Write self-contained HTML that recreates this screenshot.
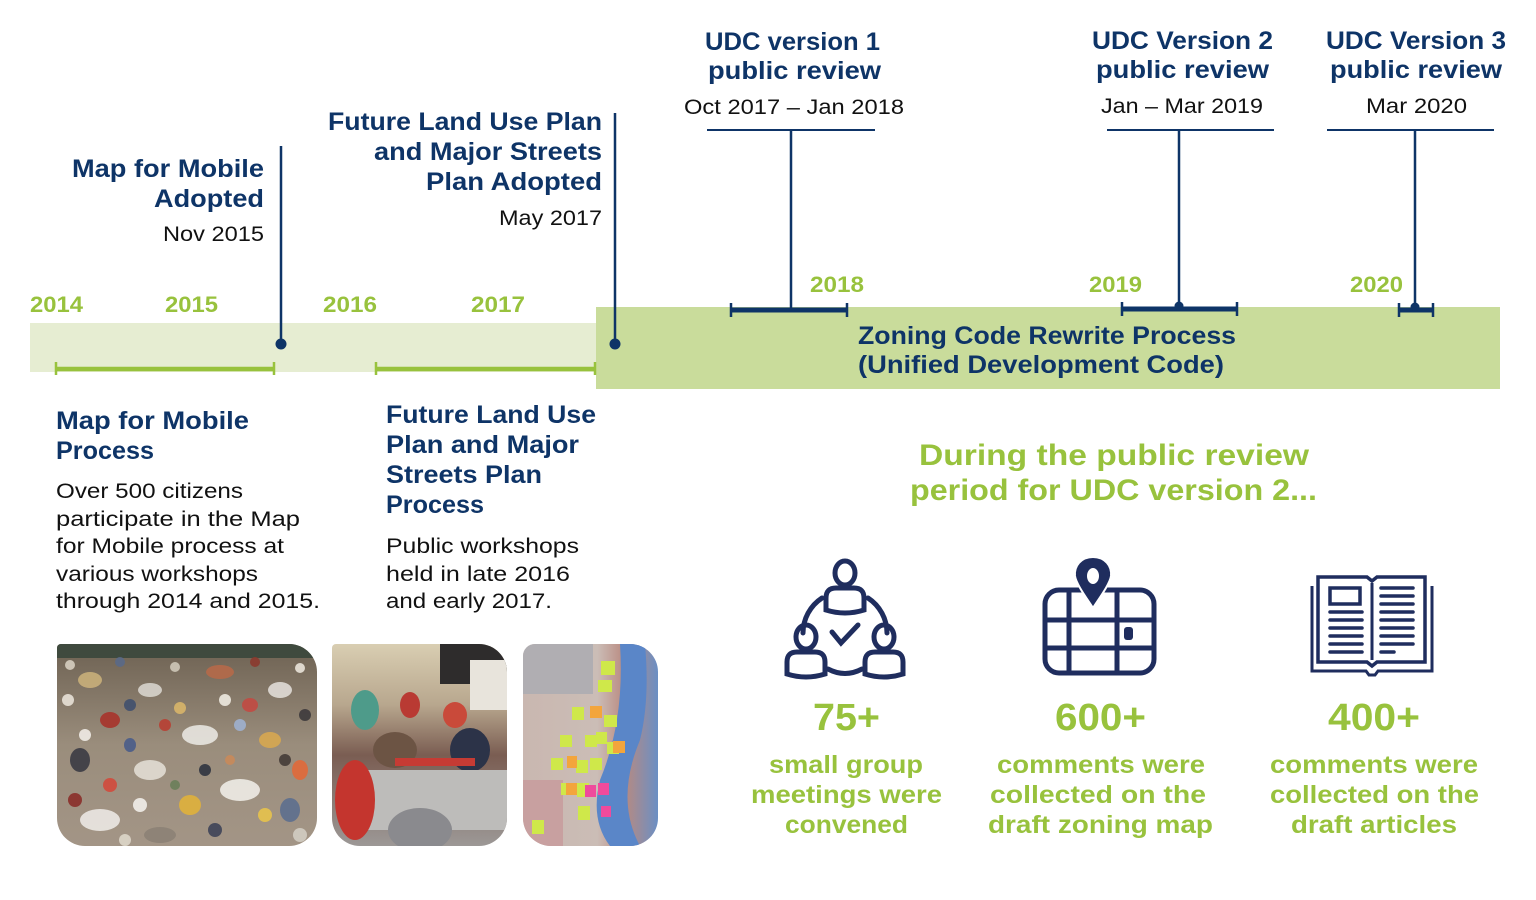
<!DOCTYPE html>
<html><head><meta charset="utf-8"><style>
html,body{margin:0;padding:0;background:#fff;}
svg{display:block;}
text{font-family:"Liberation Sans",sans-serif;}
.h{font-weight:bold;fill:#0e3467;font-size:25px;}
.r{fill:#111;font-size:21px;}
.y{font-weight:bold;fill:#98c23d;font-size:22px;}
.g{font-weight:bold;fill:#98c23d;}
</style></head><body>
<svg width="1536" height="900" viewBox="0 0 1536 900" xmlns="http://www.w3.org/2000/svg">
<defs>
<clipPath id="c1"><path d="M61,644 H289 A28,28 0 0 1 317,672 V818 A28,28 0 0 1 289,846 H85 A28,28 0 0 1 57,818 V648 A4,4 0 0 1 61,644 Z"/></clipPath>
<clipPath id="c2"><path d="M336,644 H479 A28,28 0 0 1 507,672 V818 A28,28 0 0 1 479,846 H360 A28,28 0 0 1 332,818 V648 A4,4 0 0 1 336,644 Z"/></clipPath>
<clipPath id="c3"><path d="M535,644 H630 A28,28 0 0 1 658,672 V818 A28,28 0 0 1 630,846 H551 A28,28 0 0 1 523,818 V656 A12,12 0 0 1 535,644 Z"/></clipPath>
<linearGradient id="p1" x1="0" y1="0" x2="0" y2="1"><stop offset="0" stop-color="#6d6152"/><stop offset="0.5" stop-color="#9a8d7c"/><stop offset="1" stop-color="#a39586"/></linearGradient>
<linearGradient id="p2" x1="0" y1="0" x2="0" y2="1"><stop offset="0" stop-color="#d9ceb2"/><stop offset="0.3" stop-color="#b8a78e"/><stop offset="0.55" stop-color="#7a5d52"/><stop offset="1" stop-color="#9c9896"/></linearGradient>
<linearGradient id="p3" x1="0" y1="0" x2="1" y2="0"><stop offset="0" stop-color="#c9b7b0"/><stop offset="0.55" stop-color="#cbbdb6"/><stop offset="0.75" stop-color="#b98a80"/><stop offset="1" stop-color="#6b8fc4"/></linearGradient>
</defs>

<!-- bands -->
<rect x="30" y="323" width="566" height="49" fill="#e6edd2"/>
<rect x="596" y="307" width="904" height="82" fill="#c9dc9b"/>

<!-- green brackets -->
<g stroke="#98c23d" fill="none">
<line x1="55" y1="369" x2="275" y2="369" stroke-width="4.5"/>
<line x1="56" y1="362" x2="56" y2="375" stroke-width="2.5"/>
<line x1="274" y1="362" x2="274" y2="375" stroke-width="2.5"/>
<line x1="376" y1="369" x2="595" y2="369" stroke-width="4.5"/>
<line x1="376" y1="362" x2="376" y2="375" stroke-width="2.5"/>
<line x1="595" y1="362" x2="595" y2="375" stroke-width="2.5"/>
</g>

<!-- navy lines -->
<g stroke="#0e3467" fill="none">
<line x1="281" y1="146" x2="281" y2="344" stroke-width="2.5"/>
<line x1="615" y1="113" x2="615" y2="344" stroke-width="2.5"/>
<line x1="707" y1="130" x2="875" y2="130" stroke-width="2"/>
<line x1="791" y1="130" x2="791" y2="310" stroke-width="2.5"/>
<line x1="1107" y1="130" x2="1274" y2="130" stroke-width="2"/>
<line x1="1179" y1="130" x2="1179" y2="306" stroke-width="2.5"/>
<line x1="1327" y1="130" x2="1494" y2="130" stroke-width="2"/>
<line x1="1415" y1="130" x2="1415" y2="307" stroke-width="2.5"/>
<line x1="730" y1="310" x2="848" y2="310" stroke-width="5"/>
<line x1="731" y1="303" x2="731" y2="317" stroke-width="2.5"/>
<line x1="847" y1="303" x2="847" y2="317" stroke-width="2.5"/>
<line x1="1121" y1="309" x2="1238" y2="309" stroke-width="5"/>
<line x1="1122" y1="302" x2="1122" y2="316" stroke-width="2.5"/>
<line x1="1237" y1="302" x2="1237" y2="316" stroke-width="2.5"/>
<line x1="1398" y1="310" x2="1434" y2="310" stroke-width="5"/>
<line x1="1399" y1="303" x2="1399" y2="317" stroke-width="2.5"/>
<line x1="1433" y1="303" x2="1433" y2="317" stroke-width="2.5"/>
</g>
<g fill="#0e3467">
<circle cx="281" cy="344" r="5.5"/>
<circle cx="615" cy="344" r="5.5"/>
<circle cx="1179" cy="306" r="4.5"/>
<circle cx="1415" cy="307" r="4.5"/>
</g>

<!-- top labels -->
<text class="h" x="264" y="177" text-anchor="end" textLength="192" lengthAdjust="spacingAndGlyphs">Map for Mobile</text>
<text class="h" x="264" y="207" text-anchor="end" textLength="110" lengthAdjust="spacingAndGlyphs">Adopted</text>
<text class="r" x="264" y="241" text-anchor="end" textLength="101" lengthAdjust="spacingAndGlyphs">Nov 2015</text>

<text class="h" x="602" y="130" text-anchor="end" textLength="274" lengthAdjust="spacingAndGlyphs">Future Land Use Plan</text>
<text class="h" x="602" y="160" text-anchor="end" textLength="228" lengthAdjust="spacingAndGlyphs">and Major Streets</text>
<text class="h" x="602" y="190" text-anchor="end" textLength="176" lengthAdjust="spacingAndGlyphs">Plan Adopted</text>
<text class="r" x="602" y="225" text-anchor="end" textLength="103" lengthAdjust="spacingAndGlyphs">May 2017</text>

<text class="h" x="705" y="50" textLength="175" lengthAdjust="spacingAndGlyphs">UDC version 1</text>
<text class="h" x="708" y="79" textLength="173" lengthAdjust="spacingAndGlyphs">public review</text>
<text class="r" x="684" y="114" textLength="220" lengthAdjust="spacingAndGlyphs">Oct 2017 – Jan 2018</text>

<text class="h" x="1092" y="49" textLength="181" lengthAdjust="spacingAndGlyphs">UDC Version 2</text>
<text class="h" x="1096" y="78" textLength="173" lengthAdjust="spacingAndGlyphs">public review</text>
<text class="r" x="1101" y="113" textLength="162" lengthAdjust="spacingAndGlyphs">Jan – Mar 2019</text>

<text class="h" x="1326" y="49" textLength="180" lengthAdjust="spacingAndGlyphs">UDC Version 3</text>
<text class="h" x="1330" y="78" textLength="172" lengthAdjust="spacingAndGlyphs">public review</text>
<text class="r" x="1366" y="113" textLength="101" lengthAdjust="spacingAndGlyphs">Mar 2020</text>

<!-- years -->
<text class="y" x="30" y="312" textLength="53" lengthAdjust="spacingAndGlyphs">2014</text>
<text class="y" x="165" y="312" textLength="53" lengthAdjust="spacingAndGlyphs">2015</text>
<text class="y" x="323" y="312" textLength="54" lengthAdjust="spacingAndGlyphs">2016</text>
<text class="y" x="471" y="312" textLength="54" lengthAdjust="spacingAndGlyphs">2017</text>
<text class="y" x="810" y="292" textLength="54" lengthAdjust="spacingAndGlyphs">2018</text>
<text class="y" x="1089" y="292" textLength="53" lengthAdjust="spacingAndGlyphs">2019</text>
<text class="y" x="1350" y="292" textLength="53" lengthAdjust="spacingAndGlyphs">2020</text>

<!-- band label -->
<text class="h" x="858" y="344" textLength="378" lengthAdjust="spacingAndGlyphs">Zoning Code Rewrite Process</text>
<text class="h" x="858" y="373" textLength="366" lengthAdjust="spacingAndGlyphs">(Unified Development Code)</text>

<!-- left descriptions -->
<text class="h" x="56" y="429" textLength="193" lengthAdjust="spacingAndGlyphs">Map for Mobile</text>
<text class="h" x="56" y="459" textLength="98" lengthAdjust="spacingAndGlyphs">Process</text>
<text class="r" x="56" y="498" textLength="187" lengthAdjust="spacingAndGlyphs">Over 500 citizens</text>
<text class="r" x="56" y="526" textLength="244" lengthAdjust="spacingAndGlyphs">participate in the Map</text>
<text class="r" x="56" y="553" textLength="228" lengthAdjust="spacingAndGlyphs">for Mobile process at</text>
<text class="r" x="56" y="581" textLength="202" lengthAdjust="spacingAndGlyphs">various workshops</text>
<text class="r" x="56" y="608" textLength="264" lengthAdjust="spacingAndGlyphs">through 2014 and 2015.</text>

<text class="h" x="386" y="423" textLength="210" lengthAdjust="spacingAndGlyphs">Future Land Use</text>
<text class="h" x="386" y="453" textLength="193" lengthAdjust="spacingAndGlyphs">Plan and Major</text>
<text class="h" x="386" y="483" textLength="156" lengthAdjust="spacingAndGlyphs">Streets Plan</text>
<text class="h" x="386" y="513" textLength="98" lengthAdjust="spacingAndGlyphs">Process</text>
<text class="r" x="386" y="553" textLength="193" lengthAdjust="spacingAndGlyphs">Public workshops</text>
<text class="r" x="386" y="581" textLength="184" lengthAdjust="spacingAndGlyphs">held in late 2016</text>
<text class="r" x="386" y="608" textLength="166" lengthAdjust="spacingAndGlyphs">and early 2017.</text>

<!-- stats heading -->
<text class="g" x="919" y="465" font-size="30" textLength="390" lengthAdjust="spacingAndGlyphs">During the public review</text>
<text class="g" x="910" y="500" font-size="30" textLength="407" lengthAdjust="spacingAndGlyphs">period for UDC version 2...</text>

<!-- numbers -->
<text class="g" x="813" y="730" font-size="38" textLength="67" lengthAdjust="spacingAndGlyphs">75+</text>
<text class="g" x="1055" y="730" font-size="38" textLength="91" lengthAdjust="spacingAndGlyphs">600+</text>
<text class="g" x="1328" y="730" font-size="38" textLength="92" lengthAdjust="spacingAndGlyphs">400+</text>

<text class="g" x="769" y="773" font-size="25" textLength="154" lengthAdjust="spacingAndGlyphs">small group</text>
<text class="g" x="751" y="803" font-size="25" textLength="191" lengthAdjust="spacingAndGlyphs">meetings were</text>
<text class="g" x="785" y="833" font-size="25" textLength="123" lengthAdjust="spacingAndGlyphs">convened</text>

<text class="g" x="997" y="773" font-size="25" textLength="208" lengthAdjust="spacingAndGlyphs">comments were</text>
<text class="g" x="990" y="803" font-size="25" textLength="216" lengthAdjust="spacingAndGlyphs">collected on the</text>
<text class="g" x="988" y="833" font-size="25" textLength="225" lengthAdjust="spacingAndGlyphs">draft zoning map</text>

<text class="g" x="1270" y="773" font-size="25" textLength="208" lengthAdjust="spacingAndGlyphs">comments were</text>
<text class="g" x="1270" y="803" font-size="25" textLength="209" lengthAdjust="spacingAndGlyphs">collected on the</text>
<text class="g" x="1291" y="833" font-size="25" textLength="166" lengthAdjust="spacingAndGlyphs">draft articles</text>

<!-- icon 1: people network -->
<g stroke="#1f2d5e" stroke-width="5" fill="none" stroke-linecap="round">
<path d="M822,598 A42,42 0 0 0 803,633"/>
<path d="M868,598 A42,42 0 0 1 887,633"/>
<path d="M828,669 Q845,678 862,669"/>
<ellipse cx="845" cy="573" rx="10" ry="12"/>
<path d="M826,610 V598 Q826,588 836,588 H854 Q864,588 864,598 V610 Q845,616 826,610 Z"/>
<ellipse cx="806" cy="637" rx="10" ry="12"/>
<path d="M787,674 V662 Q787,652 797,652 H815 Q825,652 825,662 V674 Q806,680 787,674 Z"/>
<ellipse cx="884" cy="637" rx="10" ry="12"/>
<path d="M865,674 V662 Q865,652 875,652 H893 Q903,652 903,662 V674 Q884,680 865,674 Z"/>
<path d="M832,632 L841,643 L858,625"/>
</g>

<!-- icon 2: map -->
<g stroke="#1f2d5e" stroke-width="5" fill="none">
<rect x="1045" y="590" width="109" height="83" rx="14"/>
<line x1="1069" y1="590" x2="1069" y2="673"/>
<line x1="1117" y1="590" x2="1117" y2="673"/>
<line x1="1045" y1="620" x2="1154" y2="620"/>
<line x1="1045" y1="648" x2="1154" y2="648"/>
</g>
<path d="M1093,557 C1081,557 1074,566 1075,576 C1076,584 1088,600 1093,608 C1098,600 1110,584 1111,576 C1112,566 1105,557 1093,557 Z" fill="#1f2d5e" stroke="#fff" stroke-width="2"/>
<ellipse cx="1093" cy="576" rx="6" ry="8" fill="#fff"/>
<rect x="1124" y="627" width="9" height="13" rx="3" fill="#1f2d5e"/>

<!-- icon 3: book -->
<g stroke="#1f2d5e" fill="none">
<path d="M1318,662 V577 H1367 L1372,581 L1377,577 H1425 V662 H1377 L1372,666 L1367,662 Z" stroke-width="3.5"/>
<line x1="1372" y1="583" x2="1372" y2="660" stroke-width="3"/>
<path d="M1312,586 V671 H1366 L1369,675 H1375 L1378,671 H1432 V586" stroke-width="3"/>
<rect x="1330" y="588" width="30" height="16" stroke-width="3.5"/>
<g stroke-width="3.5" stroke-linecap="round">
<line x1="1330" y1="612" x2="1362" y2="612"/>
<line x1="1330" y1="620" x2="1362" y2="620"/>
<line x1="1330" y1="628" x2="1362" y2="628"/>
<line x1="1330" y1="636" x2="1362" y2="636"/>
<line x1="1330" y1="644" x2="1362" y2="644"/>
<line x1="1330" y1="652" x2="1362" y2="652"/>
<line x1="1381" y1="588" x2="1413" y2="588"/>
<line x1="1381" y1="596" x2="1413" y2="596"/>
<line x1="1381" y1="604" x2="1413" y2="604"/>
<line x1="1381" y1="612" x2="1413" y2="612"/>
<line x1="1381" y1="620" x2="1413" y2="620"/>
<line x1="1381" y1="628" x2="1413" y2="628"/>
<line x1="1381" y1="636" x2="1413" y2="636"/>
<line x1="1381" y1="644" x2="1413" y2="644"/>
<line x1="1381" y1="652" x2="1394" y2="652"/>
</g>
</g>

<!-- photo 1: crowd -->
<g clip-path="url(#c1)">
<rect x="57" y="644" width="260" height="202" fill="url(#p1)"/>
<rect x="57" y="644" width="260" height="14" fill="#3f4a3e"/>
<g opacity="0.9">
<ellipse cx="90" cy="680" rx="12" ry="8" fill="#c9b07a"/>
<ellipse cx="150" cy="690" rx="12" ry="7" fill="#d8d4cc"/>
<ellipse cx="220" cy="672" rx="14" ry="7" fill="#b56a4a"/>
<ellipse cx="280" cy="690" rx="12" ry="8" fill="#e0dcd6"/>
<ellipse cx="110" cy="720" rx="10" ry="8" fill="#a8342c"/>
<ellipse cx="200" cy="735" rx="18" ry="10" fill="#e8e6e0"/>
<ellipse cx="270" cy="740" rx="11" ry="8" fill="#d7a850"/>
<ellipse cx="80" cy="760" rx="10" ry="12" fill="#3b3b44"/>
<ellipse cx="150" cy="770" rx="16" ry="10" fill="#e2ddd4"/>
<ellipse cx="240" cy="790" rx="20" ry="11" fill="#efece6"/>
<ellipse cx="190" cy="805" rx="11" ry="10" fill="#e0b23c"/>
<ellipse cx="100" cy="820" rx="20" ry="11" fill="#ece8e4"/>
<ellipse cx="290" cy="810" rx="10" ry="12" fill="#5d6f8e"/>
<ellipse cx="160" cy="835" rx="16" ry="8" fill="#8c8276"/>
<ellipse cx="250" cy="705" rx="8" ry="7" fill="#c24b43"/>
<ellipse cx="130" cy="745" rx="6" ry="7" fill="#4a5c8a"/>
<ellipse cx="300" cy="770" rx="8" ry="10" fill="#e26a3a"/>
<circle cx="70" cy="665" r="5" fill="#d6cfc0"/><circle cx="120" cy="662" r="5" fill="#5a6a88"/>
<circle cx="175" cy="667" r="5" fill="#cfc8b9"/><circle cx="255" cy="662" r="5" fill="#8c3a2e"/>
<circle cx="300" cy="668" r="5" fill="#e9e4da"/><circle cx="68" cy="700" r="6" fill="#e8e2d8"/>
<circle cx="130" cy="705" r="6" fill="#41506e"/><circle cx="180" cy="708" r="6" fill="#d9b56a"/>
<circle cx="225" cy="700" r="6" fill="#eee9e0"/><circle cx="305" cy="715" r="6" fill="#3e3a3c"/>
<circle cx="165" cy="725" r="6" fill="#b84034"/><circle cx="240" cy="725" r="6" fill="#9fb1d0"/>
<circle cx="85" cy="735" r="6" fill="#f0ece6"/><circle cx="285" cy="760" r="6" fill="#453c38"/>
<circle cx="110" cy="785" r="7" fill="#d24b3c"/><circle cx="205" cy="770" r="6" fill="#303540"/>
<circle cx="265" cy="815" r="7" fill="#e7c44c"/><circle cx="140" cy="805" r="7" fill="#f2efea"/>
<circle cx="75" cy="800" r="7" fill="#8a2f2a"/><circle cx="215" cy="830" r="7" fill="#3f4458"/>
<circle cx="300" cy="835" r="7" fill="#d2ccc2"/><circle cx="125" cy="840" r="6" fill="#ddd6c9"/>
<circle cx="175" cy="785" r="5" fill="#6c7f5a"/><circle cx="230" cy="760" r="5" fill="#c98a5a"/>
</g>
</g>

<!-- photo 2: workshop -->
<g clip-path="url(#c2)">
<rect x="332" y="644" width="175" height="202" fill="url(#p2)"/>
<rect x="440" y="644" width="67" height="40" fill="#2e2c2c"/>
<rect x="470" y="660" width="37" height="50" fill="#e8e4dc"/>
<ellipse cx="365" cy="710" rx="14" ry="20" fill="#4e9b8a"/>
<ellipse cx="410" cy="705" rx="10" ry="13" fill="#b93a33"/>
<ellipse cx="455" cy="715" rx="12" ry="13" fill="#c94a3a"/>
<ellipse cx="395" cy="750" rx="22" ry="18" fill="#6c5444"/>
<ellipse cx="470" cy="750" rx="20" ry="22" fill="#2c3348"/>
<rect x="360" y="770" width="147" height="60" fill="#bdbcba"/>
<ellipse cx="355" cy="800" rx="20" ry="40" fill="#c4352e"/>
<ellipse cx="420" cy="830" rx="32" ry="22" fill="#8a8a8e"/>
<rect x="395" y="758" width="80" height="8" fill="#c63b34"/>
</g>

<!-- photo 3: map with sticky notes -->
<g clip-path="url(#c3)">
<rect x="523" y="644" width="135" height="202" fill="url(#p3)"/>
<rect x="523" y="644" width="70" height="50" fill="#b0aeb2"/>
<path d="M620,644 Q625,720 600,780 Q590,820 610,846 L640,846 Q615,800 640,740 Q650,700 645,644 Z" fill="#5a86c8"/>
<rect x="523" y="780" width="40" height="66" fill="#c8a0a0"/>
<g fill="#cfe84a">
<rect x="601" y="661" width="14" height="14"/><rect x="598" y="680" width="14" height="12"/>
<rect x="572" y="707" width="12" height="13"/><rect x="604" y="715" width="13" height="12"/>
<rect x="560" y="735" width="12" height="12"/><rect x="585" y="735" width="12" height="12"/>
<rect x="596" y="732" width="11" height="12"/><rect x="607" y="742" width="12" height="12"/>
<rect x="551" y="758" width="12" height="12"/><rect x="576" y="760" width="12" height="13"/>
<rect x="590" y="758" width="12" height="12"/><rect x="577" y="783" width="12" height="14"/>
<rect x="578" y="806" width="12" height="14"/><rect x="532" y="820" width="12" height="14"/>
<rect x="561" y="783" width="11" height="12"/>
</g>
<g fill="#f3a53c">
<rect x="590" y="706" width="12" height="12"/><rect x="567" y="756" width="10" height="12"/>
<rect x="613" y="741" width="12" height="12"/><rect x="566" y="783" width="11" height="12"/>
</g>
<g fill="#ef4a9c">
<rect x="585" y="785" width="11" height="12"/><rect x="598" y="783" width="11" height="12"/>
<rect x="601" y="806" width="10" height="11"/>
</g>
</g>
</svg>
</body></html>
